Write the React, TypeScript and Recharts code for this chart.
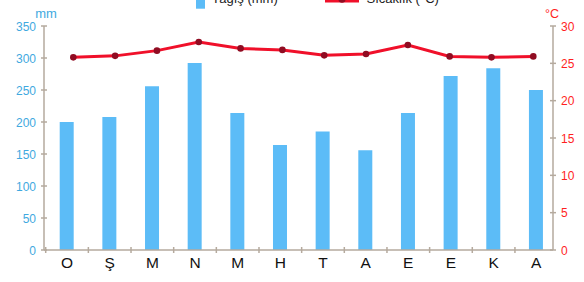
import {
  ComposedChart,
  Bar,
  Line,
  XAxis,
  YAxis,
} from "recharts";

const months = ["O", "Ş", "M", "N", "M", "H", "T", "A", "E", "E", "K", "A"];
const rainfall = [200, 208, 256, 292, 214, 164, 185, 156, 214, 272, 284, 250];
const temperature = [25.8, 26.0, 26.7, 27.86, 27.0, 26.8, 26.07, 26.25, 27.45, 25.93, 25.8, 25.93];
const mmTicks = [0, 50, 100, 150, 200, 250, 300, 350];
const cTicks = [0, 5, 10, 15, 20, 25, 30];

const data = months.map((m, i) => ({
  month: m,
  rain: rainfall[i],
  temp: temperature[i],
}));

const FONT = "'Liberation Sans', Arial, sans-serif";
const AXIS = "#b5aa9e";
const BLUE = "#5cbcf7";
const BLUE_TXT = "#3fa9e0";
const RED = "#f0102a";
const RED_TXT = "#ff1f1f";
const DOT = "#900c22";

const W = 584;
const H = 282;
const LEFT_W = 44;
const RIGHT_W = 31;
const BAR_PAD = { left: 1.7, right: -4.6 };
const LINE_PAD = { left: 8.4, right: -1.2 };
const BAND = (W - LEFT_W - RIGHT_W - BAR_PAD.left - BAR_PAD.right) / months.length;

const MonthTick = (props: any) => {
  const { x, y, payload } = props;
  const axisY = y - 5;
  const bx = x - BAND / 2;
  return (
    <g>
      <line x1={bx} x2={bx} y1={axisY - 3} y2={axisY + 3} stroke={AXIS} strokeWidth={1.5} />
      <text x={x} y={axisY + 18} textAnchor="middle" fill="#111" fontSize={15.5} fontFamily={FONT}>
        {payload.value}
      </text>
    </g>
  );
};

const LeftTick = (props: any) => {
  const { x, y, payload } = props;
  const ax = x + 8;
  return (
    <g>
      <line x1={ax - 3} x2={ax + 3} y1={y} y2={y} stroke={AXIS} strokeWidth={1.5} />
      <text x={x} y={y + 4.5} textAnchor="end" fill={BLUE_TXT} fontSize={12} fontFamily={FONT}>
        {payload.value}
      </text>
    </g>
  );
};

const RightTick = (props: any) => {
  const { x, y, payload } = props;
  const ax = x - 8;
  return (
    <g>
      <line x1={ax - 3} x2={ax + 3} y1={y} y2={y} stroke={AXIS} strokeWidth={1.5} />
      <text x={x} y={y + 4.5} textAnchor="start" fill={RED_TXT} fontSize={12} fontFamily={FONT}>
        {payload.value}
      </text>
    </g>
  );
};

export default function App() {
  return (
    <div style={{ position: "absolute", left: 0, top: 0, width: W, height: H, background: "#fff" }}>
      <ComposedChart
        width={W}
        height={H}
        data={data}
        margin={{ top: 26, right: 0, bottom: 2, left: 0 }}
        barSize={14}
      >
        <XAxis
          xAxisId="bars"
          dataKey="month"
          height={30}
          padding={BAR_PAD}
          stroke={AXIS}
          strokeWidth={1.5}
          tickLine={false}
          tickSize={3}
          tickMargin={2}
          interval={0}
          tick={<MonthTick />}
        />
        <XAxis xAxisId="line" dataKey="month" padding={LINE_PAD} hide />
        <YAxis
          yAxisId="mm"
          orientation="left"
          width={LEFT_W}
          domain={[0, 350]}
          ticks={mmTicks}
          stroke={AXIS}
          strokeWidth={1.5}
          tickLine={false}
          tickSize={3}
          tickMargin={5}
          tick={<LeftTick />}
          label={({ viewBox }: any) => (
            <text
              x={viewBox.x + viewBox.width + 2}
              y={viewBox.y - 8}
              textAnchor="middle"
              fill={BLUE_TXT}
              fontSize={13}
              fontFamily={FONT}
            >
              mm
            </text>
          )}
        />
        <YAxis
          yAxisId="c"
          orientation="right"
          width={RIGHT_W}
          domain={[0, 30]}
          ticks={cTicks}
          stroke={AXIS}
          strokeWidth={1.5}
          tickLine={false}
          tickSize={3}
          tickMargin={5}
          tick={<RightTick />}
          label={({ viewBox }: any) => (
            <text
              x={viewBox.x - 1}
              y={viewBox.y - 8}
              textAnchor="middle"
              fill={RED_TXT}
              fontSize={12.5}
              fontFamily={FONT}
            >
              °C
            </text>
          )}
        />
        <Bar xAxisId="bars" yAxisId="mm" dataKey="rain" fill={BLUE} isAnimationActive={false} />
        <Line
          xAxisId="line"
          yAxisId="c"
          type="linear"
          dataKey="temp"
          stroke={RED}
          strokeWidth={3}
          dot={{ r: 3.3, fill: DOT, stroke: DOT, strokeWidth: 0 }}
          activeDot={false}
          isAnimationActive={false}
        />
      </ComposedChart>
      <svg
        width={W}
        height={30}
        style={{ position: "absolute", left: 0, top: 0, pointerEvents: "none" }}
      >
        <rect x={196} y={-0.5} width={9} height={9.2} fill={BLUE} />
        <text x={211.5} y={3} fontSize={13} fill="#222" fontFamily={FONT}>
          Yağış (mm)
        </text>
        <line x1={325} x2={359} y1={0.5} y2={0.5} stroke={RED} strokeWidth={4} />
        <circle cx={342} cy={-0.7} r={3.5} fill={DOT} />
        <text x={366.5} y={3} fontSize={13} fill="#222" fontFamily={FONT}>
          Sıcaklık (°C)
        </text>
      </svg>
    </div>
  );
}
